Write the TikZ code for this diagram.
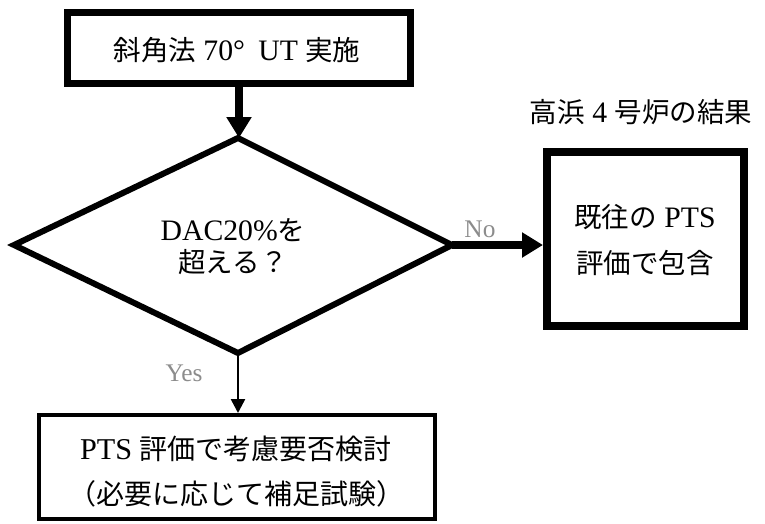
\documentclass[tikz,border=0pt]{standalone}
\usepackage{fontspec}
\setmainfont{Liberation Serif}[Scale=1.08]
\newfontfamily\cjk{Noto Sans CJK JP}
\usetikzlibrary{arrows.meta,shapes.geometric}
\newcommand{\J}[1]{{\cjk #1}}
\begin{document}
\begin{tikzpicture}[x=1pt,y=-1pt,
  txt/.style={font=\fontsize{27.5}{32}\selectfont, align=center, inner sep=0pt},
  lbl/.style={font=\fontsize{23.5}{26}\selectfont, text=black!45, inner sep=0pt},
  thickarrow/.style={line width=8pt, -{Triangle[width=24pt,length=21pt]}},
  thinarrow/.style={line width=2.5pt, -{Triangle[width=14pt,length=14pt]}}]
\useasboundingbox (0,0) rectangle (765,523);
% top box
\draw[line width=7pt] (67.5,12.5) rectangle (410,83);
\node[txt] (top) at (237,50) {\J{斜角法} 70°\hspace{0.45em}UT \J{実施}};
\coordinate (topb) at (239,86.5);
% diamond
\draw[line width=6pt, line join=miter] (238,138) -- (452,245) -- (238,353) -- (14,245) -- cycle;
\coordinate (dtop) at (239,138);
\coordinate (dright) at (452,245);
\coordinate (dbot) at (238,353);
\node[txt] (dq) at (233,247) {DAC20\%\J{を}\\\J{超える？}};
% right box
\draw[line width=8pt] (547,152) rectangle (744,326);
\node[txt, font=\fontsize{27.5}{46}\selectfont] (rbox) at (645,240) {\J{既往の} PTS\\\J{評価で包含}};
\coordinate (rleft) at (543,245);
\node[txt] (rlab) at (641,112) {\J{高浜} 4 \J{号炉の結果}};
% bottom box
\draw[line width=3.5pt] (39,415) rectangle (435,519);
\node[txt, font=\fontsize{28}{45}\selectfont] (bbox) at (236,472) {PTS \J{評価で考慮要否検討}\\\J{（必要に応じて補足試験）}};
\coordinate (btop) at (238,413);
% arrows
\draw[thickarrow] (topb) -- (dtop);
\draw[thickarrow] (dright) -- (rleft);
\draw[thinarrow] (dbot) -- (btop);
% labels
\node[lbl] (no) at (480,229) {No};
\node[lbl] (yes) at (184,373) {Yes};
\end{tikzpicture}
\end{document}
